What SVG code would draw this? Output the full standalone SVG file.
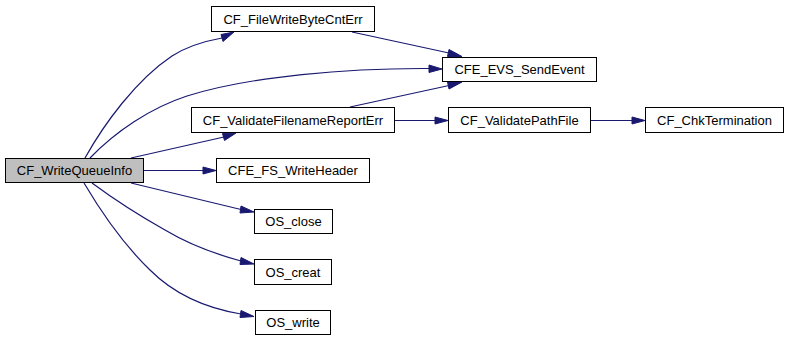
<svg xmlns="http://www.w3.org/2000/svg" width="789" height="341" viewBox="0 0 789 341">
  <style>
    .node rect { fill: #ffffff; stroke: #000000; stroke-width: 1; }
    .node.main rect { fill: #bfbfbf; }
    .node text { font-family: "Liberation Sans", Arial, sans-serif; font-size: 13px; text-anchor: middle; fill: #000000; }
    .edge path { fill: none; stroke: #191970; stroke-width: 1.2; }
    .edge polygon { fill: #191970; stroke: #191970; stroke-width: 1; }
  </style>
  <rect width="789" height="341" fill="#ffffff"/>

  <!-- call edges -->
  <g id="edges" class="edge">
    <!-- CF_WriteQueueInfo -> CF_FileWriteByteCntErr -->
    <path d="M85,158 C104,124 136,80 172,56 C186,47 200,42 222,38"/>
    <polygon points="221,34.5 234,32 223,41.5"/>
    <!-- CF_WriteQueueInfo -> CFE_EVS_SendEvent -->
    <path d="M90,158 C115,132 150,108 187,96 C250,76 350,68 429,68.5"/>
    <polygon points="429,65 442,69 429,72.5"/>
    <!-- CF_WriteQueueInfo -> CF_ValidateFilenameReportErr -->
    <path d="M131,158 L224,137"/>
    <polygon points="222.5,133.5 236,133 224.5,140.5"/>
    <!-- CF_WriteQueueInfo -> CFE_FS_WriteHeader -->
    <path d="M144,170.5 L203,170.5"/>
    <polygon points="203,167 216,170.5 203,174"/>
    <!-- CF_WriteQueueInfo -> OS_close -->
    <path d="M131,183 L241,209.5"/>
    <polygon points="241,206 254,212 240,213"/>
    <!-- CF_WriteQueueInfo -> OS_creat -->
    <path d="M92,183 C115,200 140,216 165,230 C190,245 215,254 241,261"/>
    <polygon points="241,257.5 254,264 240,264.5"/>
    <!-- CF_WriteQueueInfo -> OS_write -->
    <path d="M84,183 C100,210 125,246 150,270 C175,295 205,308 241,314"/>
    <polygon points="241,310.5 254,316.5 240,317.5"/>
    <!-- CF_FileWriteByteCntErr -> CFE_EVS_SendEvent -->
    <path d="M352,32 L449,53"/>
    <polygon points="449,49.5 462,56.5 447.5,56.5"/>
    <!-- CF_ValidateFilenameReportErr -> CFE_EVS_SendEvent -->
    <path d="M350,107 L449,85.5"/>
    <polygon points="447.5,82 462,82 449,89"/>
    <!-- CF_ValidateFilenameReportErr -> CF_ValidatePathFile -->
    <path d="M395,120.5 L435,120.5"/>
    <polygon points="435,117 448,120.5 435,124"/>
    <!-- CF_ValidatePathFile -> CF_ChkTermination -->
    <path d="M591,120.5 L632,120.5"/>
    <polygon points="632,117 645,120.5 632,124"/>
  </g>

  <g id="CF_WriteQueueInfo" class="node main">
    <rect x="5.5" y="158.5" width="138" height="24"/>
    <text x="74.5" y="175">CF_WriteQueueInfo</text>
  </g>
  <g id="CF_FileWriteByteCntErr" class="node">
    <rect x="211.5" y="6.5" width="163" height="25"/>
    <text x="293" y="23.5">CF_FileWriteByteCntErr</text>
  </g>
  <g id="CFE_EVS_SendEvent" class="node">
    <rect x="442.5" y="57.5" width="154" height="24"/>
    <text x="519.5" y="74">CFE_EVS_SendEvent</text>
  </g>
  <g id="CF_ValidateFilenameReportErr" class="node">
    <rect x="191.5" y="107.5" width="203" height="25"/>
    <text x="293" y="124.5">CF_ValidateFilenameReportErr</text>
  </g>
  <g id="CF_ValidatePathFile" class="node">
    <rect x="448.5" y="107.5" width="142" height="25"/>
    <text x="519.5" y="124.5">CF_ValidatePathFile</text>
  </g>
  <g id="CF_ChkTermination" class="node">
    <rect x="645.5" y="107.5" width="138" height="25"/>
    <text x="714.5" y="124.5">CF_ChkTermination</text>
  </g>
  <g id="CFE_FS_WriteHeader" class="node">
    <rect x="216.5" y="158.5" width="153" height="24"/>
    <text x="293" y="175">CFE_FS_WriteHeader</text>
  </g>
  <g id="OS_close" class="node">
    <rect x="254.5" y="209.5" width="78" height="24"/>
    <text x="293.5" y="226">OS_close</text>
  </g>
  <g id="OS_creat" class="node">
    <rect x="254.5" y="259.5" width="77" height="25"/>
    <text x="293" y="276.5">OS_creat</text>
  </g>
  <g id="OS_write" class="node">
    <rect x="255.5" y="310.5" width="75" height="24"/>
    <text x="293" y="327">OS_write</text>
  </g>
</svg>
